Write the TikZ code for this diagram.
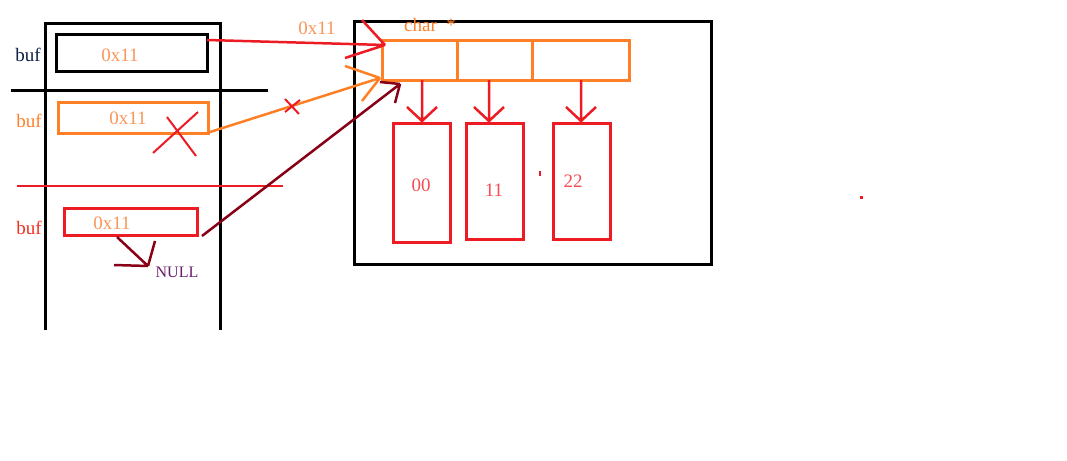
\documentclass[tikz,border=0pt]{standalone}
\usepackage{fontspec}
\setmainfont{Liberation Serif}
\definecolor{cred}{HTML}{ED1C24}
\definecolor{corange}{HTML}{FF7F27}
\definecolor{cdark}{HTML}{880015}
\definecolor{ctext}{HTML}{F7955A}
\definecolor{cnavy}{HTML}{0B1F4A}
\definecolor{cpurple}{HTML}{6A1B6A}
\begin{document}
\begin{tikzpicture}[x=1pt,y=-1pt,
  every node/.style={inner sep=0pt,font=\fontsize{19}{19}\selectfont},
  thick3/.style={line width=3pt},
  thin2/.style={line width=2pt},
  cellbox/.style={draw=cred,line width=3pt,minimum width=57pt,minimum height=116pt},
  arr/.style={line width=2.5pt}]
\useasboundingbox (0,0) rectangle (1067,460);
% stack frame
\draw[thick3] (45,330) -- (45,24) -- (220,24) -- (220,330);
\draw[thick3] (11,90) -- (268,90);
\draw[thin2,cred] (17,186) -- (283,186);
% buf boxes
\node[draw=black,thick3,minimum width=151pt,minimum height=36pt] (b1) at (131.5,53) {};
\node[text=ctext] (t1) at (120,55) {0x11};
\node[text=cnavy] (l1) at (28,55) {buf};
\node[draw=corange,thick3,minimum width=150pt,minimum height=31pt] (b2) at (133,117.5) {};
\node[text=ctext] (t2) at (128,118) {0x11};
\node[text=corange] (l2) at (29,121) {buf};
\node[draw=cred,thick3,minimum width=133pt,minimum height=27pt] (b3) at (130.5,221.5) {};
\node[text=ctext] (t3) at (112,223) {0x11};
\node[text=cred!80!orange] (l3) at (29,228) {buf};
% red X on orange buf
\draw[thin2,cred] (153,153) -- (198,112) (167,117) -- (196,156);
% NULL
\coordinate (n0) at (117,237);
\coordinate (n1) at (148,266);
\draw[arr,cdark] (n0) -- (n1) (114,265) -- (n1) (155,241) -- (n1);
\node[text=cpurple,font=\fontsize{16}{16}\selectfont] (null) at (177,272) {NULL};
% heap box
\node[draw=black,thick3,minimum width=357pt,minimum height=242pt] (heap) at (532.5,143) {};
% array
\node[draw=corange,thick3,minimum width=247pt,minimum height=39pt] (arr) at (505.5,60.5) {};
\draw[thick3,corange] (457,41) -- (457,80) (532,41) -- (532,80);
\node[text=corange] (ct) at (430,25) {char\ \ *};
% cells
\node[cellbox,minimum height=119pt] (c0) at (422,182.5) {};
\node[cellbox] (c1) at (495,181.5) {};
\node[cellbox] (c2) at (582,181.5) {};
\node[text=cred!70!pink] (v0) at (421,185) {00};
\node[text=cred!70!pink] (v1) at (494,190) {11};
\node[text=cred!70!pink] (v2) at (573,181) {22};
\fill[cred] (539,171) rectangle (541,176);
\fill[cred] (860,196) rectangle (863,199);
% down arrows
\foreach \x in {422,489,581}{
  \draw[arr,cred] (\x,80) -- (\x,121) (\x-15,107) -- (\x,121) -- (\x+15,107);
}
% red pointer arrow
\coordinate (h1) at (385,45);
\draw[arr,cred] (207,40) -- (h1) (362,20) -- (h1) (345,58) -- (h1);
\node[text=ctext] (p1) at (317,28) {0x11};
% orange pointer arrow
\coordinate (h2) at (380,78);
\draw[arr,corange] (210,132) -- (h2) (345,66) -- (h2) (362,101) -- (h2);
\draw[thin2,cred] (285,99) -- (299,114) (285,112) -- (300,100);
% dark red pointer arrow
\coordinate (h3) at (400,84);
\draw[arr,cdark] (202,236) -- (h3) (380,82) -- (h3) (395,103) -- (h3);
\end{tikzpicture}
\end{document}
